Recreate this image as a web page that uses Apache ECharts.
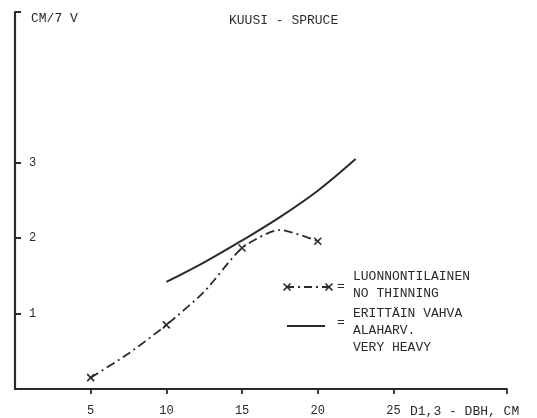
<!DOCTYPE html>
<html>
<head>
<meta charset="utf-8">
<script src="https://cdn.jsdelivr.net/npm/echarts@6/dist/echarts.min.js"></script>
<style>html,body{margin:0;padding:0;background:#fff}#c{width:537px;height:418px}</style>
</head>
<body>
<div id="c"></div>
<script>
// Data
const noThinX = [5, 7.5, 10, 12.5, 15, 17.5, 20];
const noThinY = [0.15, 0.47, 0.85, 1.29, 1.87, 2.11, 1.96];
const noThinMarked = [5, 10, 15, 20];
const heavyX = [10, 12.5, 15, 17.5, 20, 22.5];
const heavyY = [1.42, 1.68, 1.97, 2.28, 2.63, 3.05];
const xTickLabels = [5, 10, 15, 20, 25];
const yTickLabels = [1, 2, 3];
const seriesNames = ['LUONNONTILAINEN NO THINNING', 'ERITTÄIN VAHVA ALAHARV. VERY HEAVY'];

const FONT = '"Liberation Mono", "DejaVu Sans Mono", monospace';
const INK = '#2a2a2a';
const XMARK = 'path://M0,0L10,10M10,0L0,10';

const chart = echarts.init(document.getElementById('c'));
const legendTxt = (x, y, t) => ({type:'text', left:x, top:y, style:{text:t, font:'13px ' + FONT, fill:INK}});
const xm = (cx, cy) => ({type:'group', children:[
  {type:'line', shape:{x1:cx-3.5,y1:cy-3.5,x2:cx+3.5,y2:cy+3.5}, style:{stroke:INK,lineWidth:1.6}},
  {type:'line', shape:{x1:cx-3.5,y1:cy+3.5,x2:cx+3.5,y2:cy-3.5}, style:{stroke:INK,lineWidth:1.6}}
]});

chart.setOption({
  animation: false,
  backgroundColor: '#fff',
  title: {
    text: 'KUUSI - SPRUCE', left: 224, top: 9,
    textStyle: {fontFamily: FONT, fontSize: 13, fontWeight: 'normal', color: INK}
  },
  grid: {left: 15, right: 30, top: 12, bottom: 29, containLabel: false},
  xAxis: {
    type: 'value', min: 0, max: 32.5,
    name: 'D1,3 - DBH, CM', nameLocation: 'end', nameGap: -97,
    nameTextStyle: {fontFamily: FONT, fontSize: 13, color: INK, align: 'left', verticalAlign: 'top', padding: [16, 0, 0, 0]},
    axisLine: {lineStyle: {color: INK, width: 1.8}},
    axisTick: {show: true, inside: false, length: 5, lineStyle: {color: INK, width: 1.8}, customValues: xTickLabels.concat([32.5])},
    axisLabel: {customValues: xTickLabels, margin: 16, fontFamily: FONT, fontSize: 12, color: INK},
    splitLine: {show: false}
  },
  yAxis: {
    type: 'value', min: 0, max: 5,
    name: 'CM/7 V', nameLocation: 'end', nameGap: 0,
    nameTextStyle: {fontFamily: FONT, fontSize: 13, color: INK, align: 'left', verticalAlign: 'top', padding: [0, 0, 0, 16]},
    axisLine: {lineStyle: {color: INK, width: 2.2}},
    axisTick: {show: true, inside: true, length: 6, lineStyle: {color: INK, width: 2}, customValues: yTickLabels.concat([5])},
    axisLabel: {customValues: yTickLabels, inside: true, margin: 14, fontFamily: FONT, fontSize: 12, color: INK},
    splitLine: {show: false}
  },
  series: [
    {
      name: seriesNames[0], type: 'line', smooth: 0.22,
      data: noThinX.map((x, i) => ({
        value: [x, noThinY[i]],
        symbol: noThinMarked.includes(x) ? XMARK : 'none'
      })),
      symbolSize: 7,
      itemStyle: {color: INK, borderColor: INK, borderWidth: 1.6},
      lineStyle: {color: INK, width: 1.8, type: [9, 4, 2, 4]}
    },
    {
      name: seriesNames[1], type: 'line', smooth: 0.35, symbol: 'none',
      data: heavyX.map((x, i) => [x, heavyY[i]]),
      lineStyle: {color: INK, width: 2}
    }
  ],
  graphic: [
    {type:'line', shape:{x1:286,y1:287,x2:330,y2:287}, style:{stroke:INK,lineWidth:1.8,lineDash:[8,4,2,4]}},
    xm(287, 287), xm(329, 287),
    legendTxt(337, 280, '='),
    legendTxt(353, 270, 'LUONNONTILAINEN'),
    legendTxt(353, 287, 'NO THINNING'),
    {type:'line', shape:{x1:287,y1:326,x2:325,y2:326}, style:{stroke:INK,lineWidth:2}},
    legendTxt(337, 316, '='),
    legendTxt(353, 307, 'ERITTÄIN VAHVA'),
    legendTxt(353, 324, 'ALAHARV.'),
    legendTxt(353, 341, 'VERY HEAVY')
  ]
});
</script>
</body>
</html>
